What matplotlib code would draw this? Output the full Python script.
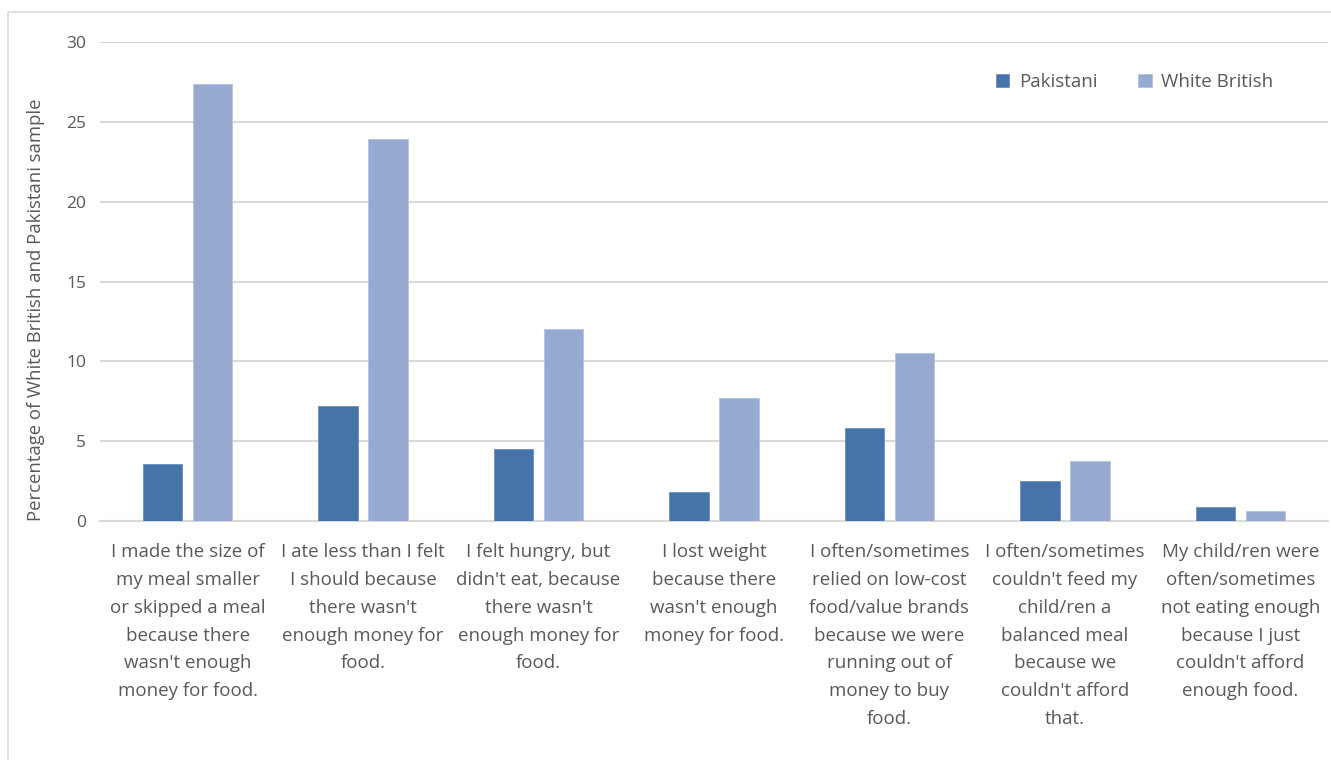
import matplotlib.pyplot as plt
import numpy as np
from matplotlib.patches import Rectangle

# Survey statements (wrapped as they appear under each group)
categories = [
    "I made the size of\nmy meal smaller\nor skipped a meal\nbecause there\nwasn't enough\nmoney for food.",
    "I ate less than I felt\nI should because\nthere wasn't\nenough money for\nfood.",
    "I felt hungry, but\ndidn't eat, because\nthere wasn't\nenough money for\nfood.",
    "I lost weight\nbecause there\nwasn't enough\nmoney for food.",
    "I often/sometimes\nrelied on low-cost\nfood/value brands\nbecause we were\nrunning out of\nmoney to buy\nfood.",
    "I often/sometimes\ncouldn't feed my\nchild/ren a\nbalanced meal\nbecause we\ncouldn't afford\nthat.",
    "My child/ren were\noften/sometimes\nnot eating enough\nbecause I just\ncouldn't afford\nenough food.",
]
pakistani = [3.6, 7.2, 4.5, 1.8, 5.8, 2.5, 0.9]
white_british = [27.4, 23.9, 12.0, 7.7, 10.5, 3.75, 0.6]
y_ticks = [0, 5, 10, 15, 20, 25, 30]

TEXT = "#595959"
GRID = "#D9D9D9"
plt.rcParams["font.family"] = ["Open Sans", "DejaVu Sans"]

fig = plt.figure(figsize=(13.31, 7.6), dpi=100)
ax = fig.add_axes([100 / 1331, 1 - 521 / 760, 1228 / 1331, 479 / 760])

# outer chart frame
fig.patches.append(Rectangle((8 / 1331, -0.05), 1.2, (760 - 12) / 760 + 0.05,
                             transform=fig.transFigure, fill=False,
                             edgecolor=GRID, linewidth=1.2))

x = np.arange(len(categories))
w = 0.225
gap = 0.06
ax.bar(x - (w + gap) / 2, pakistani, w, color="#4673A8", edgecolor="#6B90BF",
       linewidth=0.6, label="Pakistani", zorder=3)
ax.bar(x + (w + gap) / 2, white_british, w, color="#95A9D1", edgecolor="#B3C3E0",
       linewidth=0.6, label="White British", zorder=3)

ax.set_xlim(-0.5, len(categories) - 0.5)
ax.set_ylim(0, 30)
ax.set_yticks(y_ticks)
ax.set_yticklabels([str(t) for t in y_ticks], color=TEXT, fontsize=12.5)
ax.set_xticks(x)
ax.set_xticklabels(categories, color=TEXT, fontsize=13.5, linespacing=1.70,
                   va="top")
ax.tick_params(axis="both", length=0)
ax.tick_params(axis="y", pad=10)
ax.tick_params(axis="x", pad=16)

ax.yaxis.grid(True, color=GRID, linewidth=1.5, zorder=0)
for side in ["top", "right", "left"]:
    ax.spines[side].set_visible(False)
ax.spines["bottom"].set_color(GRID)
ax.spines["bottom"].set_linewidth(1.5)

ax.set_ylabel("Percentage of White British and Pakistani sample", color=TEXT,
              fontsize=13.3)
ax.yaxis.set_label_coords(-55 / 1228, 0.44)

leg = ax.legend(loc="upper right", bbox_to_anchor=(0.969, 0.97), ncol=2,
                frameon=False, fontsize=13.5, handlelength=0.7, handleheight=0.7,
                columnspacing=2.2, handletextpad=0.5)
for t in leg.get_texts():
    t.set_color(TEXT)

fig.savefig("out.png", dpi=100)
